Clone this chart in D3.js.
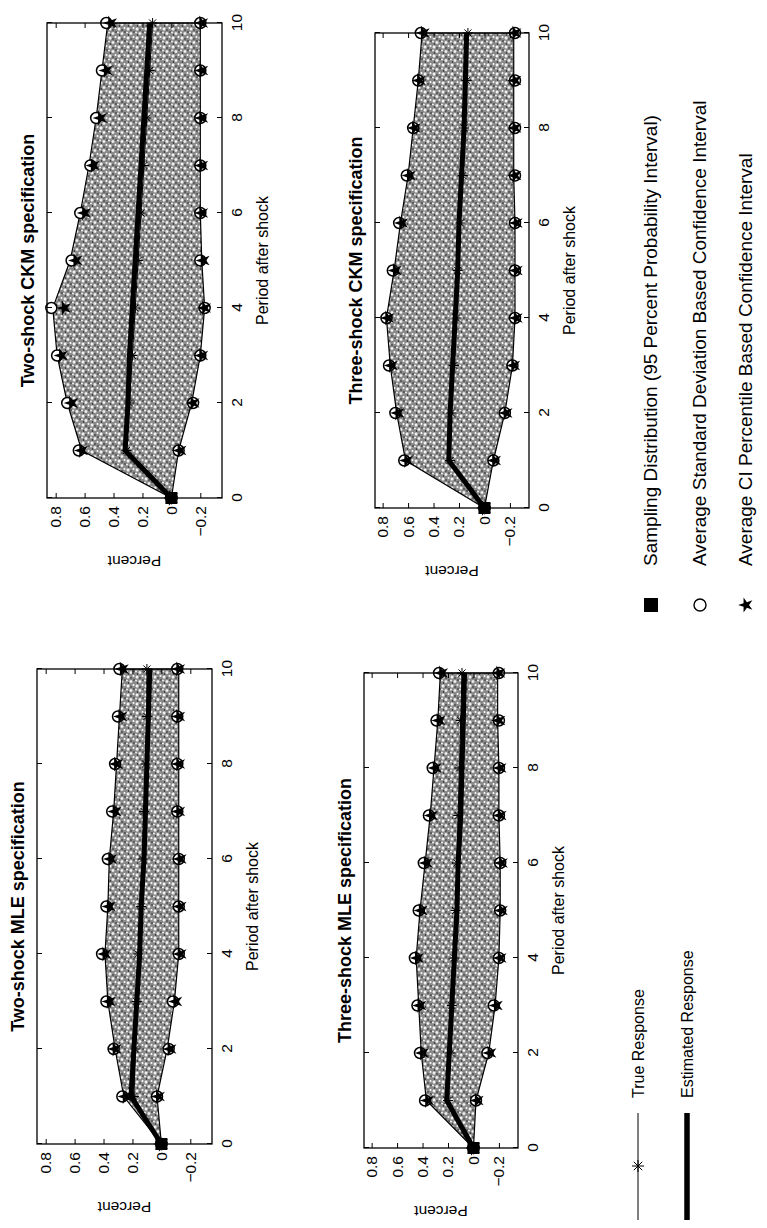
<!DOCTYPE html>
<html>
<head>
<meta charset="utf-8">
<script src="https://cdn.jsdelivr.net/npm/d3@7"></script>
<style>
  body { margin: 0; background: #fff; }
  text { font-family: "Liberation Sans", Arial, sans-serif; fill: #000; }
</style>
</head>
<body>
<div id="board"></div>
<script>
// periods after the shock
var periods = [0, 1, 2, 3, 4, 5, 6, 7, 8, 9, 10];
var xTicks = [0, 2, 4, 6, 8, 10];
var yTicks = [-0.2, 0, 0.2, 0.4, 0.6, 0.8];
var yDomain = [-0.35, 0.86];

// TWO-SHOCK MLE
var mle2BandHi = [0, 0.26, 0.32, 0.37, 0.39, 0.37, 0.36, 0.33, 0.31, 0.29, 0.27];
var mle2BandLo = [0, 0.03, -0.04, -0.09, -0.12, -0.12, -0.12, -0.12, -0.12, -0.12, -0.12];
var mle2SdHi   = [0, 0.27, 0.33, 0.38, 0.41, 0.38, 0.37, 0.34, 0.32, 0.30, 0.29];
var mle2SdLo   = [0, 0.03, -0.05, -0.08, -0.12, -0.12, -0.12, -0.11, -0.11, -0.11, -0.11];
var mle2PcHi   = [0, 0.25, 0.32, 0.36, 0.39, 0.36, 0.35, 0.32, 0.31, 0.28, 0.27];
var mle2PcLo   = [0, 0.02, -0.06, -0.10, -0.13, -0.13, -0.13, -0.12, -0.12, -0.12, -0.12];
var mle2Est    = [0, 0.21, 0.19, 0.17, 0.15, 0.14, 0.12, 0.11, 0.10, 0.09, 0.08];
var mle2True   = [0, 0.19, 0.18, 0.17, 0.16, 0.14, 0.13, 0.12, 0.11, 0.10, 0.10];

// TWO-SHOCK CKM
var ckm2BandHi = [0, 0.62, 0.72, 0.79, 0.82, 0.70, 0.63, 0.57, 0.52, 0.48, 0.44];
var ckm2BandLo = [0, -0.05, -0.14, -0.20, -0.23, -0.21, -0.20, -0.20, -0.20, -0.20, -0.20];
var ckm2SdHi   = [0, 0.64, 0.72, 0.79, 0.83, 0.69, 0.63, 0.56, 0.52, 0.48, 0.45];
var ckm2SdLo   = [0, -0.05, -0.15, -0.20, -0.23, -0.20, -0.20, -0.20, -0.20, -0.20, -0.20];
var ckm2PcHi   = [0, 0.62, 0.69, 0.76, 0.74, 0.66, 0.60, 0.54, 0.49, 0.45, 0.42];
var ckm2PcLo   = [0, -0.06, -0.15, -0.21, -0.23, -0.22, -0.21, -0.21, -0.21, -0.21, -0.21];
var ckm2Est    = [0, 0.32, 0.30, 0.29, 0.27, 0.25, 0.23, 0.21, 0.19, 0.17, 0.15];
var ckm2True   = [0, 0.31, 0.29, 0.27, 0.25, 0.23, 0.21, 0.19, 0.17, 0.15, 0.13];

// THREE-SHOCK MLE
var mle3BandHi = [0, 0.37, 0.41, 0.43, 0.45, 0.42, 0.38, 0.34, 0.31, 0.28, 0.26];
var mle3BandLo = [0, -0.02, -0.12, -0.17, -0.20, -0.21, -0.21, -0.20, -0.20, -0.19, -0.19];
var mle3SdHi   = [0, 0.38, 0.42, 0.44, 0.46, 0.43, 0.39, 0.35, 0.32, 0.29, 0.27];
var mle3SdLo   = [0, -0.02, -0.11, -0.16, -0.20, -0.21, -0.21, -0.20, -0.20, -0.20, -0.20];
var mle3PcHi   = [0, 0.36, 0.40, 0.42, 0.44, 0.41, 0.37, 0.33, 0.30, 0.27, 0.25];
var mle3PcLo   = [0, -0.03, -0.13, -0.18, -0.21, -0.22, -0.22, -0.21, -0.21, -0.20, -0.20];
var mle3Est    = [0, 0.21, 0.19, 0.17, 0.15, 0.13, 0.12, 0.10, 0.09, 0.08, 0.07];
var mle3True   = [0, 0.20, 0.18, 0.17, 0.15, 0.14, 0.13, 0.12, 0.11, 0.10, 0.09];

// THREE-SHOCK CKM
var ckm3BandHi = [0, 0.62, 0.69, 0.74, 0.77, 0.71, 0.66, 0.60, 0.56, 0.52, 0.49];
var ckm3BandLo = [0, -0.07, -0.16, -0.22, -0.24, -0.24, -0.24, -0.23, -0.23, -0.23, -0.23];
var ckm3SdHi   = [0, 0.63, 0.70, 0.75, 0.77, 0.72, 0.67, 0.61, 0.56, 0.52, 0.50];
var ckm3SdLo   = [0, -0.07, -0.16, -0.22, -0.24, -0.24, -0.24, -0.24, -0.24, -0.24, -0.24];
var ckm3PcHi   = [0, 0.61, 0.68, 0.73, 0.76, 0.70, 0.65, 0.59, 0.55, 0.51, 0.48];
var ckm3PcLo   = [0, -0.08, -0.17, -0.23, -0.25, -0.25, -0.25, -0.24, -0.24, -0.24, -0.24];
var ckm3Est    = [0, 0.28, 0.27, 0.25, 0.23, 0.21, 0.20, 0.18, 0.16, 0.15, 0.14];
var ckm3True   = [0, 0.27, 0.26, 0.24, 0.22, 0.21, 0.19, 0.17, 0.16, 0.14, 0.13];

var lineLegend = ["True Response", "Estimated Response"];
var markLegend = ["Sampling Distribution (95 Percent Probability Interval)",
                  "Average Standard Deviation Based Confidence Interval",
                  "Average CI Percentile Based Confidence Interval"];

// page is the landscape figure turned on its side
var pageW = 767, pageH = 1228;
var axLen = 475;

var svg = d3.select("#board").append("svg")
  .attr("width", pageW).attr("height", pageH);
svg.append("rect").attr("width", pageW).attr("height", pageH).attr("fill", "#fff");

// stipple fill for the sampling distribution
var defs = svg.append("defs");
var pat = defs.append("pattern").attr("id", "stip")
  .attr("width", 9).attr("height", 9).attr("patternUnits", "userSpaceOnUse");
pat.append("rect").attr("width", 9).attr("height", 9).attr("fill", "#8a8a8a");
[[2, 2, 1.6], [6.5, 5, 1.4], [3, 7.5, 1.1], [7.5, 1, 0.9]].forEach(function(c) {
  pat.append("circle").attr("cx", c[0]).attr("cy", c[1]).attr("r", c[2]).attr("fill", "#f2f2f2");
});
[[5, 2.5], [1, 5], [8, 8]].forEach(function(c) {
  pat.append("circle").attr("cx", c[0]).attr("cy", c[1]).attr("r", 0.7).attr("fill", "#111");
});

var fig = svg.append("g").attr("transform", "translate(0," + pageH + ") rotate(-90)");

var panels = [
  {title: "Two-shock MLE specification", hi: mle2BandHi, lo: mle2BandLo, sdHi: mle2SdHi, sdLo: mle2SdLo,
   pcHi: mle2PcHi, pcLo: mle2PcLo, est: mle2Est, tru: mle2True, u0: 84, v0: 37, v1: 212},
  {title: "Two-shock CKM specification", hi: ckm2BandHi, lo: ckm2BandLo, sdHi: ckm2SdHi, sdLo: ckm2SdLo,
   pcHi: ckm2PcHi, pcLo: ckm2PcLo, est: ckm2Est, tru: ckm2True, u0: 730, v0: 47, v1: 222},
  {title: "Three-shock MLE specification", hi: mle3BandHi, lo: mle3BandLo, sdHi: mle3SdHi, sdLo: mle3SdLo,
   pcHi: mle3PcHi, pcLo: mle3PcLo, est: mle3Est, tru: mle3True, u0: 80, v0: 364, v1: 518},
  {title: "Three-shock CKM specification", hi: ckm3BandHi, lo: ckm3BandLo, sdHi: ckm3SdHi, sdLo: ckm3SdLo,
   pcHi: ckm3PcHi, pcLo: ckm3PcLo, est: ckm3Est, tru: ckm3True, u0: 720, v0: 375, v1: 529}
];

var asterisk = function(s) {
  var a = s * 0.7071;
  return "M" + (-s) + ",0L" + s + ",0M0," + (-s) + "L0," + s +
         "M" + (-a) + "," + (-a) + "L" + a + "," + a + "M" + (-a) + "," + a + "L" + a + "," + (-a);
};
var starPath = d3.symbol().type(d3.symbolStar).size(70)();
var fmt = function(d) { return d === 0 ? "0" : d3.format(".1f")(d).replace("-", "\u2212"); };

panels.forEach(function(p) {
  var x = d3.scaleLinear().domain([0, 10]).range([p.u0, p.u0 + axLen]);
  var y = d3.scaleLinear().domain(yDomain).range([p.v1, p.v0]);
  var g = fig.append("g");

  // band
  var area = d3.area().x(function(d, i) { return x(periods[i]); })
    .y0(function(d, i) { return y(p.lo[i]); })
    .y1(function(d, i) { return y(p.hi[i]); });
  g.append("path").datum(periods).attr("d", area)
    .attr("fill", "url(#stip)").attr("stroke", "#000").attr("stroke-width", 1.2);

  var line = function(arr) {
    return d3.line().x(function(d, i) { return x(periods[i]); }).y(function(d, i) { return y(arr[i]); })(periods);
  };

  // true response
  g.append("path").attr("d", line(p.tru)).attr("fill", "none").attr("stroke", "#000").attr("stroke-width", 1);
  g.selectAll(".ast").data(p.tru).enter().append("path")
    .attr("d", asterisk(5))
    .attr("transform", function(d, i) { return "translate(" + x(periods[i]) + "," + y(d) + ")"; })
    .attr("stroke", "#000").attr("stroke-width", 1).attr("fill", "none");

  // estimated response
  g.append("path").attr("d", line(p.est)).attr("fill", "none").attr("stroke", "#000")
    .attr("stroke-width", 5).attr("stroke-linejoin", "round");

  // SD based CI (circles) and percentile CI (stars)
  [p.sdHi, p.sdLo].forEach(function(arr) {
    g.selectAll(null).data(arr).enter().append("circle")
      .attr("cx", function(d, i) { return x(periods[i]); })
      .attr("cy", function(d) { return y(d); })
      .attr("r", 5.5).attr("fill", "#fff").attr("stroke", "#000").attr("stroke-width", 1.5);
  });
  [p.pcHi, p.pcLo].forEach(function(arr) {
    g.selectAll(null).data(arr).enter().append("path")
      .attr("d", starPath)
      .attr("transform", function(d, i) { return "translate(" + x(periods[i]) + "," + y(d) + ")"; })
      .attr("fill", "#000");
  });
  g.append("rect").attr("x", x(0) - 6).attr("y", y(0) - 6).attr("width", 12).attr("height", 12).attr("fill", "#000");

  // box and inward ticks
  g.append("rect").attr("x", x(0)).attr("y", p.v0).attr("width", axLen).attr("height", p.v1 - p.v0)
    .attr("fill", "none").attr("stroke", "#000").attr("stroke-width", 1.3);

  g.append("g").attr("transform", "translate(0," + p.v1 + ")")
    .call(d3.axisBottom(x).tickValues(xTicks).tickSizeInner(-5).tickSizeOuter(0).tickPadding(9).tickFormat(d3.format("d")));
  g.append("g").attr("transform", "translate(0," + p.v0 + ")")
    .call(d3.axisTop(x).tickValues(xTicks).tickSizeInner(-5).tickSizeOuter(0).tickFormat(""));
  g.append("g").attr("transform", "translate(" + x(0) + ",0)")
    .call(d3.axisLeft(y).tickValues(yTicks).tickSizeInner(-5).tickSizeOuter(0).tickPadding(8).tickFormat(fmt));
  g.append("g").attr("transform", "translate(" + x(10) + ",0)")
    .call(d3.axisRight(y).tickValues(yTicks).tickSizeInner(-5).tickSizeOuter(0).tickFormat(""));
  g.selectAll(".domain").remove();
  g.selectAll(".tick line").attr("stroke", "#000");
  g.selectAll(".tick text").style("font-size", "15.5px").style("font-family", "Liberation Sans, Arial, sans-serif");

  // labels
  g.append("text").attr("x", x(5)).attr("y", p.v0 - 13).attr("text-anchor", "middle")
    .style("font-size", "18px").style("font-weight", "bold").text(p.title);
  g.append("text").attr("x", x(5)).attr("y", p.v1 + 46).attr("text-anchor", "middle")
    .style("font-size", "16px").text("Period after shock");
  g.append("text").attr("transform", "translate(" + (p.u0 - 58) + "," + ((p.v0 + p.v1) / 2) + ") rotate(-90)")
    .attr("text-anchor", "middle").style("font-size", "15.5px").text("Percent");
});

// LEGENDS
var lg = fig.append("g");
var lineRows = [638, 687];
lg.append("line").attr("x1", 8).attr("x2", 115).attr("y1", lineRows[0]).attr("y2", lineRows[0])
  .attr("stroke", "#000").attr("stroke-width", 1);
lg.append("path").attr("d", asterisk(6)).attr("transform", "translate(62," + lineRows[0] + ")")
  .attr("stroke", "#000").attr("fill", "none");
lg.append("line").attr("x1", 8).attr("x2", 115).attr("y1", lineRows[1]).attr("y2", lineRows[1])
  .attr("stroke", "#000").attr("stroke-width", 5.5);
lineLegend.forEach(function(t, i) {
  lg.append("text").attr("x", 130).attr("y", lineRows[i] + 5.5).style("font-size", "16px").text(t);
});

var markRows = [651, 700, 746];
lg.append("rect").attr("x", 616).attr("y", markRows[0] - 7).attr("width", 14).attr("height", 14).attr("fill", "#000");
lg.append("circle").attr("cx", 623).attr("cy", markRows[1]).attr("r", 6).attr("fill", "#fff")
  .attr("stroke", "#000").attr("stroke-width", 1.4);
lg.append("path").attr("d", starPath).attr("transform", "translate(623," + markRows[2] + ")").attr("fill", "#000");
markLegend.forEach(function(t, i) {
  lg.append("text").attr("x", 662).attr("y", markRows[i] + 6).style("font-size", "19px").text(t);
});
</script>
</body>
</html>
